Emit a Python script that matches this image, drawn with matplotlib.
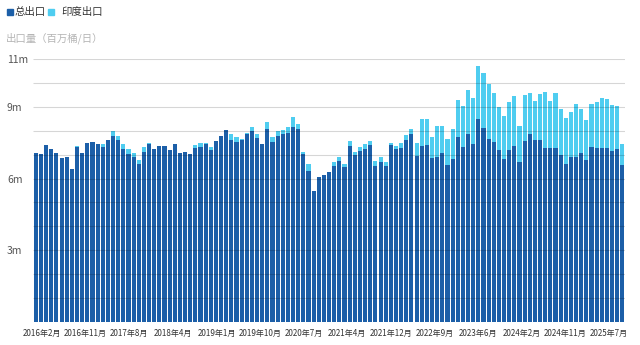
import numpy as np
import matplotlib.pyplot as plt
from matplotlib.patches import Rectangle

plt.rcParams['font.family'] = ['Noto Sans CJK SC', 'DejaVu Sans']

# monthly exports, million barrels/day, Jan 2016 - Jul 2025
total_export = [
    7.08, 7.01, 7.40, 7.22, 7.08, 6.85, 6.91, 6.41, 7.31, 7.08,
    7.47, 7.51, 7.44, 7.31, 7.61, 7.79, 7.61, 7.24, 7.04, 6.89,
    6.59, 7.10, 7.43, 7.22, 7.36, 7.36, 7.19, 7.44, 7.05, 7.10,
    7.03, 7.26, 7.33, 7.43, 7.19, 7.58, 7.78, 8.03, 7.61, 7.54,
    7.63, 7.86, 7.99, 7.68, 7.44, 8.07, 7.52, 7.79, 7.86, 7.92,
    8.17, 8.07, 7.01, 6.33, 5.48, 6.05, 6.15, 6.27, 6.52, 6.75,
    6.47, 7.37, 6.98, 7.17, 7.24, 7.40, 6.54, 6.70, 6.54, 7.42,
    7.22, 7.29, 7.61, 7.85, 6.96, 7.36, 7.40, 6.87, 6.91, 7.08,
    6.55, 6.80, 7.72, 7.30, 7.88, 7.43, 8.47, 8.13, 7.64, 7.54,
    7.19, 6.80, 7.19, 7.37, 6.70, 7.58, 7.86, 7.61, 7.61, 7.26,
    7.26, 7.26, 6.98, 6.59, 6.91, 6.91, 7.05, 6.78, 7.33, 7.29,
    7.26, 7.26, 7.17, 7.24, 6.57,
]
india_export = [
    0.00, 0.00, 0.00, 0.00, 0.00, 0.00, 0.00, 0.00, 0.05, 0.00,
    0.00, 0.00, 0.00, 0.13, 0.00, 0.20, 0.17, 0.20, 0.18, 0.17,
    0.19, 0.21, 0.07, 0.00, 0.00, 0.00, 0.00, 0.00, 0.00, 0.00,
    0.00, 0.14, 0.17, 0.04, 0.14, 0.00, 0.00, 0.00, 0.24, 0.21,
    0.04, 0.06, 0.18, 0.17, 0.00, 0.31, 0.23, 0.21, 0.17, 0.25,
    0.39, 0.20, 0.11, 0.27, 0.00, 0.00, 0.00, 0.00, 0.18, 0.16,
    0.13, 0.21, 0.12, 0.14, 0.20, 0.18, 0.21, 0.19, 0.16, 0.05,
    0.14, 0.18, 0.21, 0.22, 0.54, 1.13, 1.08, 0.85, 1.29, 1.13,
    1.09, 1.27, 1.56, 1.73, 1.82, 1.92, 2.25, 2.27, 2.30, 2.02,
    1.82, 1.82, 2.02, 2.08, 1.51, 1.91, 1.70, 1.65, 1.93, 2.35,
    2.00, 2.30, 1.91, 1.93, 1.89, 2.19, 1.86, 1.65, 1.77, 1.90,
    2.09, 2.05, 1.91, 1.81, 0.86,
]
tick_labels = ['2016年2月', '2016年11月', '2017年8月', '2018年4月', '2019年1月',
               '2019年10月', '2020年7月', '2021年4月', '2021年12月', '2022年9月',
               '2023年6月', '2024年2月', '2024年11月', '2025年7月']
y_ticks = [3, 6, 9, 11]
y_tick_labels = ['3m', '6m', '9m', '11m']

dark = '#1c5fa8'
cyan = '#4fcdf0'

fig = plt.figure(figsize=(6.4, 3.45), dpi=100)
ax = fig.add_axes([0.052, 0.0667, 0.9245, 0.7623])

x = np.arange(len(total_export))
ax.bar(x, total_export, width=0.8, color=dark, zorder=2)
ax.bar(x, india_export, width=0.8, bottom=total_export, color=cyan, zorder=2)

ax.set_xlim(-0.5, len(x) - 0.5)
ax.set_ylim(0, 11)

# horizontal grid every 1m, drawn over the bars
ax.hlines(np.arange(1, 12), -0.5, len(x) - 0.5, color='black', alpha=0.16,
          linewidth=0.8, zorder=3)

for s in ax.spines.values():
    s.set_visible(False)

ax.set_yticks(y_ticks)
ax.set_yticklabels(y_tick_labels, fontsize=7.5, color='#555555', ha='left')
ax.tick_params(axis='y', length=0, pad=19)

ax.set_xticks(np.linspace(1.2, 111.4, len(tick_labels)))
ax.set_xticklabels(tick_labels, fontsize=5.8, color='#333333')
ax.tick_params(axis='x', length=0, pad=5)

# legend
fig.patches.append(Rectangle((6.5 / 640, 1 - 15 / 345), 6 / 640, 6 / 345,
                             transform=fig.transFigure, color=dark))
fig.text(15 / 640, 1 - 11.5 / 345, '总出口', fontsize=7.5, color='#333333',
         va='center', ha='left')
fig.patches.append(Rectangle((47.5 / 640, 1 - 15 / 345), 6 / 640, 6 / 345,
                             transform=fig.transFigure, color=cyan))
fig.text(61 / 640, 1 - 11.5 / 345, '印度出口', fontsize=7.5, color='#333333',
         va='center', ha='left')

fig.text(6 / 640, 1 - 38 / 345, '出口量（百万桶/日）', fontsize=7.5,
         color='#b5b5b5', va='center', ha='left')

fig.savefig('out.png', dpi=100)
